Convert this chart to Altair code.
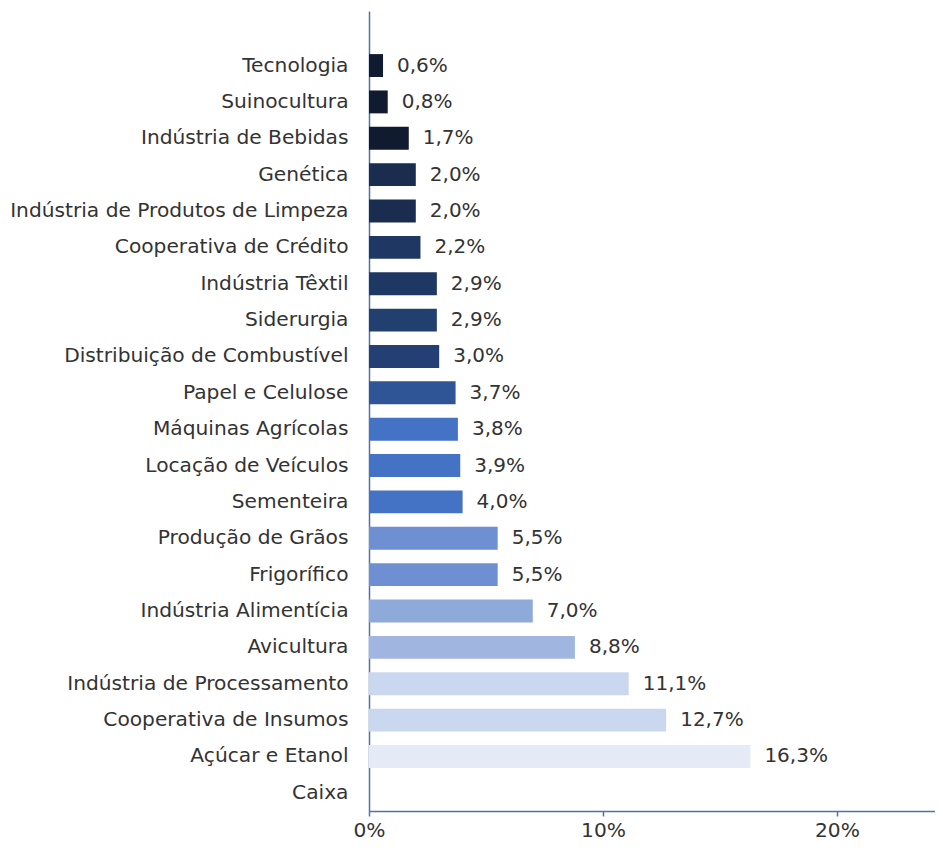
import altair as alt
import pandas as pd

categories = ["Tecnologia", "Suinocultura", "Indústria de Bebidas", "Genética",
              "Indústria de Produtos de Limpeza", "Cooperativa de Crédito", "Indústria Têxtil",
              "Siderurgia", "Distribuição de Combustível", "Papel e Celulose", "Máquinas Agrícolas",
              "Locação de Veículos", "Sementeira", "Produção de Grãos", "Frigorífico",
              "Indústria Alimentícia", "Avicultura", "Indústria de Processamento",
              "Cooperativa de Insumos", "Açúcar e Etanol"]
values = [0.6, 0.8, 1.7, 2.0, 2.0, 2.2, 2.9, 2.9, 3.0, 3.7, 3.8, 3.9, 4.0, 5.5, 5.5,
          7.0, 8.8, 11.1, 12.7, 16.3]
colors = ["#111b30", "#111b30", "#111b30", "#1b2d4e", "#1b2d4e", "#1f3863", "#1f3863",
          "#22406f", "#233f73", "#2f5597", "#4472c4", "#4472c4", "#4472c4", "#6e90d2",
          "#6e90d2", "#8eaadb", "#a0b5e0", "#cad8ef", "#cad8ef", "#e4eaf6"]
domain_order = [" "] + categories + ["Caixa"]
x_ticks = [0, 10, 20]

df = pd.DataFrame({
    "cat": categories,
    "val": values,
    "color": colors,
    "label": [f"{v:.1f}".replace(".", ",") + "%" for v in values],
})

FONT = "DejaVu Sans"
y = alt.Y("cat:N", sort=domain_order, scale=alt.Scale(domain=domain_order, paddingInner=0.37, paddingOuter=0.185),
          axis=alt.Axis(title=None, ticks=False, labelFontSize=20.2, labelColor="#333333", labelFont=FONT,
                        labelPadding=21, domainColor="#4f72a8", domainWidth=1.5, labelLimit=500))
x = alt.X("val:Q", scale=alt.Scale(domain=[0, 24.19], nice=False),
          axis=alt.Axis(title=None, values=x_ticks, labelExpr="datum.value + '%'", grid=False,
                        domainColor="#4f72a8", domainWidth=1.5, tickColor="#4f72a8", tickWidth=1.5,
                        tickSize=5, labelFontSize=20.2, labelColor="#333333", labelFont=FONT,
                        labelPadding=4, labelFlush=False))

bars = alt.Chart(df).mark_bar().encode(
    y=y, x=x, color=alt.Color("color:N", scale=None))
text = alt.Chart(df).mark_text(align="left", dx=14, fontSize=20, color="#333333", font=FONT).encode(
    y=alt.Y("cat:N", sort=domain_order), x="val:Q", text="label:N")

chart = (bars + text).properties(
    width=566, height=800,
    autosize=alt.AutoSizeParams(type="none"),
    padding={"left": 361, "top": 3, "right": 0, "bottom": 32},
).configure_view(stroke=None)
chart.save("out.html", embed_options={"renderer": "svg", "actions": False})
